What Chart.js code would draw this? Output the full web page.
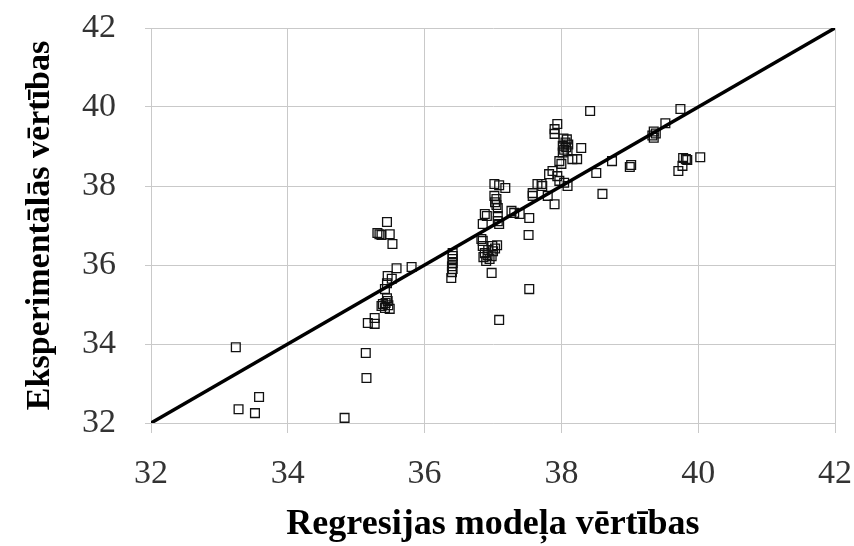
<!DOCTYPE html>
<html><head><meta charset="utf-8">
<script src="https://cdn.jsdelivr.net/npm/chart.js@4/dist/chart.umd.min.js"></script>
<style>html,body{margin:0;padding:0;background:#fff}#wrap{width:854px;height:546px}</style>
</head><body><div id="wrap"><canvas id="c" width="854" height="546"></canvas></div>
<script>
const modelValues = [33.24,33.58,33.28,33.52,34.83,35.14,35.15,35.17,35.27,35.27,
35.45,35.31,35.34,35.37,35.49,35.53,35.59,35.81,35.46,35.52,35.45,35.42,35.45,35.46,35.39,35.42,35.49,35.37,35.43,35.47,
36.41,36.41,36.41,36.41,36.40,36.41,36.40,36.39,
36.85,36.83,36.85,36.88,36.92,36.86,36.95,36.90,36.98,37.00,37.03,37.06,36.99,36.93,36.98,37.53,37.52,37.09,37.53,
36.88,36.91,36.85,37.07,37.07,37.09,37.02,37.05,37.03,37.05,37.07,37.02,37.09,37.18,37.27,37.31,37.39,37.58,37.58,37.65,37.71,37.72,37.90,37.80,37.82,37.94,37.97,38.04,38.09,37.87,37.97,38.00,38.16,38.23,38.29,38.51,38.74,38.60,38.42,37.94,37.90,37.90,
38.03,38.08,38.06,38.02,38.07,38.04,38.09,38.02,38.10,
39.00,39.02,39.74,39.52,39.35,39.38,39.33,39.35,39.78,39.82,39.84,39.77,39.71,40.03];
const experimentalValues = [33.92,32.66,32.35,32.25,32.13,33.77,33.14,34.53,34.66,34.51,
37.09,36.81,36.78,36.76,36.78,36.53,35.92,35.95,35.72,35.65,35.54,35.39,35.16,35.09,35.01,34.91,34.89,34.96,35.04,34.98,
36.30,36.23,36.15,36.05,35.97,35.90,35.82,35.67,
36.61,36.66,36.48,36.30,36.25,36.20,36.15,36.10,36.22,36.35,36.42,36.50,36.48,36.38,35.80,35.39,36.76,34.61,37.19,
37.29,37.24,37.04,37.24,37.11,37.04,37.75,37.67,37.59,37.52,37.44,38.05,38.02,37.95,37.37,37.32,37.29,37.82,37.75,38.05,38.05,38.00,37.54,37.75,38.30,38.25,38.13,38.08,38.00,38.38,38.63,38.56,38.68,38.68,38.96,38.33,38.63,37.80,39.90,39.57,39.44,39.32,
39.20,39.18,39.10,39.02,38.98,38.92,38.88,38.85,39.05,
38.48,38.53,39.95,39.59,39.38,39.33,39.28,39.22,38.71,38.68,38.66,38.51,38.38,38.73];
const lineX = [32, 42];
const lineY = [32, 42];
const tickValues = [32, 34, 36, 38, 40, 42];
const xTitle = 'Regresijas modeļa vērtības';
const yTitle = 'Eksperimentālās vērtības';

const pts = modelValues.map((x, i) => ({x: x, y: experimentalValues[i]}));
const linePts = lineX.map((x, i) => ({x: x, y: lineY[i]}));
const gridColor = '#c9c9c9';
const tickFont = {family: 'Liberation Serif', size: 34};

new Chart(document.getElementById('c'), {
  type: 'scatter',
  data: {datasets: [
    {type: 'line', data: linePts, borderColor: '#000', borderWidth: 3.5, pointRadius: 0, fill: false, tension: 0},
    {data: pts, pointStyle: 'rect', pointRadius: 6.2, pointBorderWidth: 1.3, borderColor: '#111', backgroundColor: 'rgba(255,255,255,0)', pointBackgroundColor: 'rgba(255,255,255,0)', pointBorderColor: '#111'}
  ]},
  options: {
    responsive: false, animation: false,
    layout: {padding: {top: 28, right: 19, left: 0, bottom: 0}},
    plugins: {legend: {display: false}, tooltip: {enabled: false}},
    scales: {
      x: {type: 'linear', min: 32, max: 42,
        afterBuildTicks: s => { s.ticks = tickValues.map(v => ({value: v})); },
        afterFit: s => { s.height = 123; s.paddingLeft = 0; s.paddingRight = 0; },
        grid: {color: gridColor, tickLength: 10, lineWidth: 1},
        border: {color: gridColor},
        ticks: {font: tickFont, color: '#333', padding: 21, maxRotation: 0},
        title: {display: true, text: xTitle, font: {family: 'Liberation Serif', size: 36, weight: 'bold'}, color: '#000', padding: {top: 0, bottom: 0}}
      },
      y: {type: 'linear', min: 32, max: 42,
        afterBuildTicks: s => { s.ticks = tickValues.map(v => ({value: v})); },
        afterFit: s => { s.width = 151; s.paddingTop = 0; s.paddingBottom = 0; },
        grid: {color: gridColor, tickLength: 6, lineWidth: 1},
        border: {color: gridColor},
        ticks: {font: tickFont, color: '#333', padding: 29},
        title: {display: true, text: yTitle, font: {family: 'Liberation Serif', size: 34, weight: 'bold'}, color: '#000', padding: {top: 20, bottom: 0}}
      }
    }
  }
});
</script></body></html>
